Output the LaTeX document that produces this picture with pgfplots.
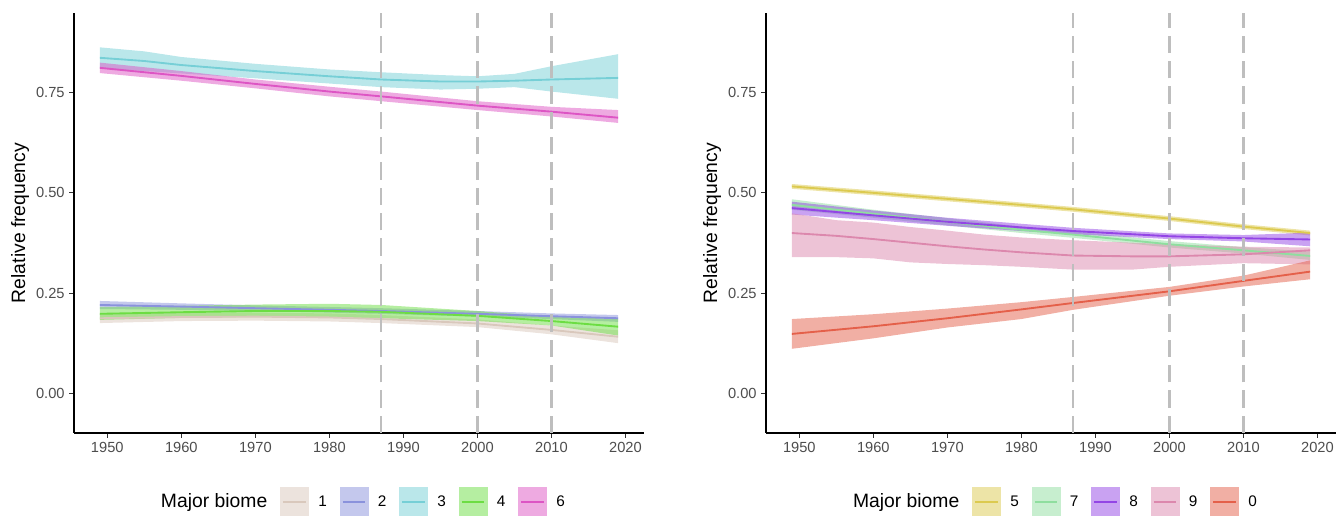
\documentclass[border=0pt]{standalone}
\usepackage{fontspec}
\setmainfont{Liberation Sans}
\usepackage{pgfplots}
\usepackage{pgfplotstable}
\pgfplotsset{compat=1.18}
\usepgfplotslibrary{fillbetween}

\definecolor{c1}{HTML}{D9C8BC}
\definecolor{c2}{HTML}{8A92DC}
\definecolor{c3}{HTML}{76CFD6}
\definecolor{c4}{HTML}{6CDD43}
\definecolor{c6}{HTML}{DD55C4}
\definecolor{c5}{HTML}{DCCA50}
\definecolor{c7}{HTML}{8FDE9F}
\definecolor{c8}{HTML}{9345E5}
\definecolor{c9}{HTML}{DC88AD}
\definecolor{c0}{HTML}{E4604A}
\definecolor{vgray}{HTML}{BEBEBE}
\definecolor{labgray}{HTML}{4D4D4D}

% columns: year, fitted mean, lower, upper
\pgfplotstableread{
x m lo hi
1949 0.188 0.176 0.200
1960 0.191 0.181 0.201
1970 0.192 0.182 0.202
1980 0.190 0.180 0.200
1987 0.186 0.176 0.196
2000 0.175 0.166 0.185
2010 0.159 0.148 0.170
2019 0.142 0.126 0.158
}\tA
\pgfplotstableread{
x m lo hi
1949 0.221 0.211 0.231
1960 0.217 0.209 0.225
1970 0.213 0.206 0.220
1980 0.209 0.202 0.216
1987 0.206 0.199 0.213
2000 0.199 0.192 0.206
2010 0.193 0.186 0.200
2019 0.188 0.179 0.196
}\tB
\pgfplotstableread{
x m lo hi
1949 0.836 0.810 0.862
1955 0.828 0.803 0.852
1960 0.818 0.797 0.838
1970 0.803 0.785 0.821
1980 0.790 0.772 0.807
1987 0.782 0.763 0.800
1995 0.777 0.757 0.793
2000 0.777 0.759 0.790
2005 0.779 0.763 0.796
2010 0.782 0.752 0.815
2019 0.786 0.734 0.845
}\tC
\pgfplotstableread{
x m lo hi
1949 0.199 0.184 0.216
1960 0.203 0.189 0.219
1970 0.206 0.191 0.222
1980 0.206 0.190 0.224
1987 0.204 0.188 0.221
2000 0.194 0.181 0.206
2010 0.181 0.170 0.192
2019 0.167 0.145 0.186
}\tD
\pgfplotstableread{
x m lo hi
1949 0.811 0.798 0.824
1960 0.791 0.779 0.803
1970 0.771 0.760 0.782
1980 0.752 0.740 0.764
1987 0.740 0.728 0.752
2000 0.717 0.706 0.728
2010 0.702 0.690 0.714
2019 0.687 0.674 0.706
}\tF
\pgfplotstableread{
x m lo hi
1949 0.516 0.510 0.522
1960 0.500 0.494 0.506
1970 0.485 0.479 0.491
1980 0.470 0.464 0.476
1987 0.459 0.453 0.465
2000 0.436 0.430 0.442
2010 0.416 0.410 0.422
2019 0.400 0.394 0.406
}\tE
\pgfplotstableread{
x m lo hi
1949 0.470 0.458 0.484
1960 0.448 0.438 0.458
1970 0.428 0.419 0.437
1980 0.408 0.400 0.416
1987 0.396 0.388 0.404
2000 0.372 0.364 0.380
2010 0.357 0.349 0.365
2019 0.343 0.333 0.354
}\tG
\pgfplotstableread{
x m lo hi
1949 0.462 0.446 0.478
1960 0.444 0.432 0.456
1970 0.428 0.418 0.438
1980 0.414 0.405 0.423
1987 0.405 0.397 0.413
2000 0.392 0.385 0.399
2010 0.387 0.379 0.395
2019 0.384 0.367 0.401
}\tH
\pgfplotstableread{
x m lo hi
1949 0.400 0.340 0.449
1955 0.393 0.340 0.432
1960 0.385 0.337 0.426
1965 0.376 0.327 0.415
1970 0.367 0.323 0.406
1975 0.359 0.320 0.396
1980 0.352 0.316 0.389
1987 0.344 0.309 0.382
1995 0.342 0.309 0.376
2000 0.342 0.316 0.372
2010 0.347 0.325 0.366
2019 0.357 0.322 0.364
}\tI
\pgfplotstableread{
x m lo hi
1949 0.149 0.112 0.186
1960 0.168 0.138 0.198
1970 0.188 0.165 0.212
1980 0.210 0.186 0.228
1987 0.226 0.209 0.241
2000 0.255 0.244 0.266
2010 0.281 0.267 0.294
2019 0.304 0.285 0.332
}\tJ

\newcommand{\band}[2]{%
  \addplot[draw=none, forget plot, name path=up#2] table[x=x,y=hi]{#1};
  \addplot[draw=none, forget plot, name path=lo#2] table[x=x,y=lo]{#1};
  \addplot[fill=#2, fill opacity=0.5, draw=none, forget plot] fill between[of=up#2 and lo#2];
}
\newcommand{\vlines}{%
  \addplot[forget plot, vgray, line width=1.7pt, dash pattern=on 13pt off 6pt] coordinates {(1987,-0.0975) (1987,0.9475)};
  \addplot[forget plot, vgray, line width=1.7pt, dash pattern=on 13pt off 6pt] coordinates {(2000,-0.0975) (2000,0.9475)};
  \addplot[forget plot, vgray, line width=1.7pt, dash pattern=on 13pt off 6pt] coordinates {(2010,-0.0975) (2010,0.9475)};
}

\pgfplotsset{
  bandkey/.style={legend image code/.code={%
    \path[draw=none, fill=#1, fill opacity=0.5] (0pt,-10.9pt) rectangle (21.75pt,10.9pt);
    \path[draw=#1, line width=1.4pt] (2.5pt,0pt) -- (19.25pt,0pt);}},
  ser/.style={#1, line width=1.4pt, bandkey=#1},
  panel/.style={
    width=427.5pt, height=315pt, scale only axis,
    anchor=south west,
    xmin=1945.5, xmax=2022.5, ymin=-0.0975, ymax=0.9475,
    axis lines=left,
    axis line style={-, black, line width=0.9pt},
    tick align=outside, major tick length=3.5pt,
    tick style={black!80, line width=0.8pt},
    xtick={1950,1960,1970,1980,1990,2000,2010,2020},
    xticklabels={1950,1960,1970,1980,1990,2000,2010,2020},
    ytick={0,0.25,0.5,0.75},
    yticklabels={0.00,0.25,0.50,0.75},
    tick label style={font=\fontsize{11}{13}\selectfont, text=labgray},
    ylabel={Relative frequency},
    ylabel style={at={(axis description cs:-0.0947,0.5)}, anchor=center, font=\fontsize{14.5}{17}\selectfont},
    legend columns=-1,
    legend style={at={(axis description cs:0.5,-0.164)}, anchor=center, draw=none, fill=none,
      nodes={inner sep=1pt, font=\fontsize{11.5}{13}\selectfont},
      /tikz/every odd column/.append style={column sep=6pt},
      /tikz/every even column/.append style={column sep=8.5pt}},
  }
}

\begin{document}
\begin{tikzpicture}
\begin{axis}[panel, at={(55.5pt,62.25pt)}]
\addlegendimage{empty legend}
\addlegendentry{\fontsize{14.5}{17}\selectfont Major biome}
\band{\tA}{c1}
\band{\tB}{c2}
\band{\tC}{c3}
\band{\tD}{c4}
\band{\tF}{c6}
\addplot[ser=c1] table[x=x,y=m]{\tA};
\addlegendentry{1}
\addplot[ser=c2] table[x=x,y=m]{\tB};
\addlegendentry{2}
\addplot[ser=c3] table[x=x,y=m]{\tC};
\addlegendentry{3}
\addplot[ser=c4] table[x=x,y=m]{\tD};
\addlegendentry{4}
\addplot[ser=c6] table[x=x,y=m]{\tF};
\addlegendentry{6}
\vlines
\end{axis}
\begin{axis}[panel, at={(574.5pt,62.25pt)}]
\addlegendimage{empty legend}
\addlegendentry{\fontsize{14.5}{17}\selectfont Major biome}
\band{\tE}{c5}
\band{\tG}{c7}
\band{\tH}{c8}
\band{\tI}{c9}
\band{\tJ}{c0}
\addplot[ser=c5] table[x=x,y=m]{\tE};
\addlegendentry{5}
\addplot[ser=c7] table[x=x,y=m]{\tG};
\addlegendentry{7}
\addplot[ser=c8] table[x=x,y=m]{\tH};
\addlegendentry{8}
\addplot[ser=c9] table[x=x,y=m]{\tI};
\addlegendentry{9}
\addplot[ser=c0] table[x=x,y=m]{\tJ};
\addlegendentry{0}
\vlines
\end{axis}
\pgfresetboundingbox
\useasboundingbox (0pt,0pt) rectangle (1007.25pt,387pt);
\end{tikzpicture}
\end{document}
